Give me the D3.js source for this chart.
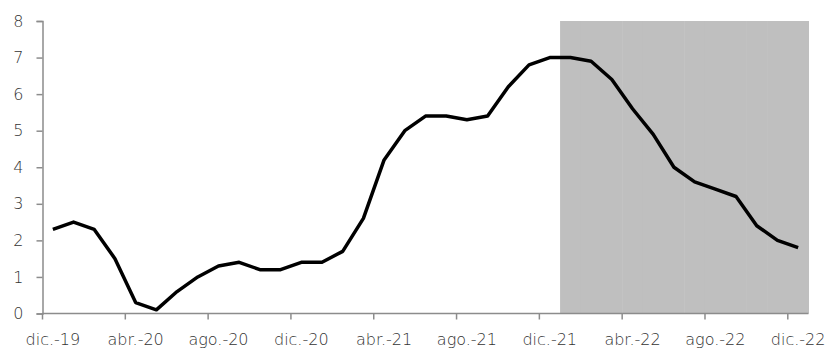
<!DOCTYPE html>
<html><head><meta charset="utf-8">
<script src="https://cdn.jsdelivr.net/npm/d3@7"></script>
<style>body{margin:0;background:#fff}text{font-family:"DejaVu Sans",sans-serif;font-weight:200;fill:#333}</style>
</head><body><svg id="c" width="827" height="352"></svg>
<script>
const months = ["dic.-19","ene.-20","feb.-20","mar.-20","abr.-20","may.-20","jun.-20","jul.-20","ago.-20","sep.-20","oct.-20","nov.-20",
"dic.-20","ene.-21","feb.-21","mar.-21","abr.-21","may.-21","jun.-21","jul.-21","ago.-21","sep.-21","oct.-21","nov.-21",
"dic.-21","ene.-22","feb.-22","mar.-22","abr.-22","may.-22","jun.-22","jul.-22","ago.-22","sep.-22","oct.-22","nov.-22","dic.-22"];
const values = [2.3,2.5,2.3,1.5,0.3,0.1,0.6,1.0,1.3,1.4,1.2,1.2,1.4,1.4,1.7,2.6,4.2,5.0,5.4,5.4,5.3,5.4,6.2,6.8,7.0,7.0,6.9,6.4,5.6,4.9,4.0,3.6,3.4,3.2,2.4,2.0,1.8];
const tickLabels = ["dic.-19","abr.-20","ago.-20","dic.-20","abr.-21","ago.-21","dic.-21","abr.-22","ago.-22","dic.-22"];
const yTicks = [0,1,2,3,4,5,6,7,8];
const shadeStart = "ene.-22";
const shadeValue = 8;

const svg = d3.select("#c");
const L = 42.5, R = 808.5, T = 21, B = 313.5;
const x = d3.scaleBand().domain(months).range([L, R]).padding(0);
const y = d3.scaleLinear().domain([0, 8]).range([B, T]);

// shaded forecast region
const si = months.indexOf(shadeStart);
const shaded = months.slice(si);
svg.append("g").selectAll("rect").data(shaded).join("rect")
  .attr("x", d => x(d)).attr("width", x.bandwidth() + 0.5)
  .attr("y", y(shadeValue)).attr("height", y(0) - y(shadeValue))
  .attr("fill", "#bfbfbf");

// y axis
const ya = svg.append("g").attr("transform", `translate(${L},0)`)
  .call(d3.axisLeft(y).tickValues(yTicks).tickSize(6).tickPadding(13));
ya.select(".domain").attr("stroke", "#8c8c8c").attr("stroke-width", 1.5);
ya.selectAll(".tick line").attr("stroke", "#8c8c8c").attr("stroke-width", 1.5);
ya.selectAll("text").style("font-size", "16px").attr("fill", "#333");

// x axis: ticks at category boundaries, labels at centers
const xa = svg.append("g").attr("transform", `translate(0,${B})`);
xa.append("line").attr("x1", L).attr("x2", R).attr("stroke", "#8c8c8c").attr("stroke-width", 1.5);
xa.selectAll("line.t").data(tickLabels).join("line").attr("class", "t")
  .attr("x1", d => x(d)).attr("x2", d => x(d)).attr("y1", 0).attr("y2", 6)
  .attr("stroke", "#8c8c8c").attr("stroke-width", 1.5);
xa.selectAll("text").data(tickLabels).join("text")
  .attr("x", d => x(d) + x.bandwidth() / 2).attr("y", 31)
  .attr("text-anchor", "middle").style("font-size", "16px").text(d => d);

// line
const line = d3.line().x((d, i) => x(months[i]) + x.bandwidth() / 2).y(d => y(d));
svg.append("path").datum(values).attr("d", line)
  .attr("fill", "none").attr("stroke", "#000").attr("stroke-width", 3.5).attr("stroke-linejoin", "round");
</script></body></html>
